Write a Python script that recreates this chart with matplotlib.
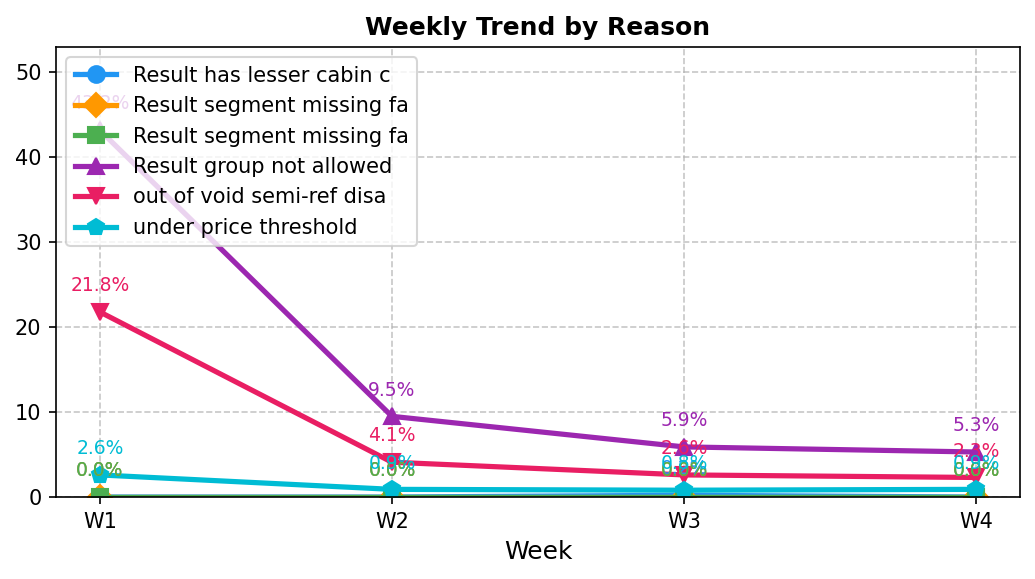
import matplotlib
matplotlib.use("Agg")
import matplotlib.pyplot as plt

weeks = ["W1", "W2", "W3", "W4"]
reasons = ["Result has lesser cabin c", "Result segment missing fa", "Result segment missing fa",
           "Result group not allowed", "out of void semi-ref disa", "under price threshold"]
blue_vals = [0.0, 0.0, 0.2, 0.0]
orange_vals = [0.0, 0.0, 0.0, 0.0]
green_vals = [0.0, 0.0, 0.0, 0.0]
purple_vals = [43.2, 9.5, 5.9, 5.3]
red_vals = [21.8, 4.1, 2.6, 2.3]
cyan_vals = [2.6, 0.9, 0.8, 0.9]

series = [blue_vals, orange_vals, green_vals, purple_vals, red_vals, cyan_vals]
colors = ["#2196F3", "#FF9800", "#4CAF50", "#9C27B0", "#E91E63", "#00BCD4"]
markers = ["o", "D", "s", "^", "v", "p"]

fig = plt.figure(figsize=(6.9, 3.86), dpi=150)
ax = fig.add_axes([56/1035, 1 - 497/579, (1020-56)/1035, (497-47)/579])
x = list(range(len(weeks)))
for vals, name, c, m in zip(series, reasons, colors, markers):
    ax.plot(x, vals, color=c, marker=m, linewidth=2.5, markersize=8, label=name)
    for xi, v in zip(x, vals):
        ax.annotate(f"{v:.1f}%", (xi, v), xytext=(0, 10), textcoords="offset points",
                    ha="center", fontsize=9, color=c)

ax.set_xticks(x)
ax.set_xticklabels(weeks)
ax.set_ylim(0, 53)
ax.set_xlabel("Week", fontsize=12)
ax.set_title("Weekly Trend by Reason", fontsize=12, fontweight="bold")
ax.grid(True, linestyle="--", alpha=0.7)
ax.legend(loc="upper left", fontsize=10)
fig.savefig("out.png", dpi=150)
